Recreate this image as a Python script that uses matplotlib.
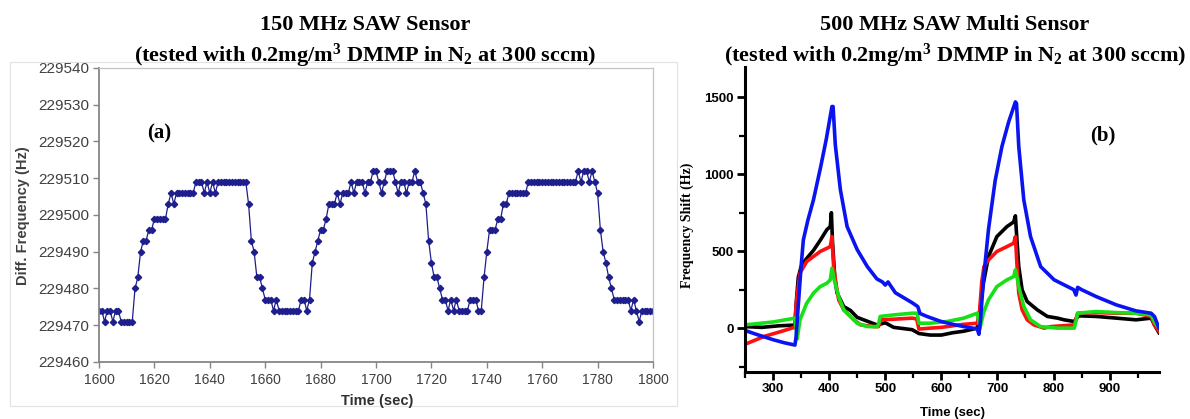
import numpy as np
import matplotlib as mpl
import matplotlib.pyplot as plt
from matplotlib.patches import Rectangle
from matplotlib.ticker import MultipleLocator

mpl.rcParams['font.family'] = 'Liberation Sans'
mpl.rcParams['mathtext.fontset'] = 'custom'
mpl.rcParams['mathtext.rm'] = 'Liberation Serif:bold'
mpl.rcParams['mathtext.bf'] = 'Liberation Serif:bold'
mpl.rcParams['mathtext.it'] = 'Liberation Serif:bold'
mpl.rcParams['mathtext.default'] = 'rm'

# ---- (a) 150 MHz sensor, one reading per second from 1600 s ----
t0_a = 1600
freq_a = [
    229474, 229474, 229471, 229474, 229474, 229471, 229474, 229474, 229471, 229471,
    229471, 229471, 229471, 229480, 229483, 229490, 229493, 229493, 229496, 229496,
    229499, 229499, 229499, 229499, 229499, 229503, 229506, 229503, 229506, 229506,
    229506, 229506, 229506, 229506, 229506, 229509, 229509, 229509, 229506, 229509,
    229506, 229509, 229506, 229509, 229509, 229509, 229509, 229509, 229509, 229509,
    229509, 229509, 229509, 229509, 229503, 229493, 229490, 229483, 229483, 229480,
    229477, 229477, 229477, 229474, 229477, 229474, 229474, 229474, 229474, 229474,
    229474, 229474, 229474, 229477, 229477, 229474, 229477, 229487, 229490, 229493,
    229496, 229496, 229499, 229503, 229503, 229503, 229506, 229503, 229506, 229506,
    229506, 229509, 229506, 229509, 229509, 229509, 229506, 229509, 229509, 229512,
    229512, 229509, 229506, 229509, 229512, 229512, 229512, 229509, 229506, 229509,
    229509, 229506, 229509, 229509, 229512, 229509, 229509, 229506, 229503, 229493,
    229487, 229483, 229483, 229480, 229477, 229477, 229474, 229477, 229474, 229477,
    229474, 229474, 229474, 229474, 229477, 229477, 229477, 229474, 229474, 229483,
    229490, 229496, 229496, 229496, 229499, 229499, 229503, 229503, 229506, 229506,
    229506, 229506, 229506, 229506, 229506, 229509, 229509, 229509, 229509, 229509,
    229509, 229509, 229509, 229509, 229509, 229509, 229509, 229509, 229509, 229509,
    229509, 229509, 229509, 229512, 229509, 229512, 229512, 229509, 229512, 229509,
    229506, 229496, 229490, 229487, 229483, 229480, 229477, 229477, 229477, 229477,
    229477, 229477, 229474, 229477, 229474, 229471, 229474, 229474, 229474, 229474,
    229474,
]
time_a = t0_a + np.arange(len(freq_a))
xticks_a = [1600, 1620, 1640, 1660, 1680, 1700, 1720, 1740, 1760, 1780, 1800]
yticks_a = [229460, 229470, 229480, 229490, 229500, 229510, 229520, 229530, 229540]

# ---- (b) 500 MHz multi sensor ----
blue_t = [250, 270, 300, 320, 339, 341, 345, 350, 354, 362, 372, 385, 395, 405, 407, 411,
          420, 432, 450, 468, 485, 495, 500, 505, 518, 548, 558, 562, 575, 598, 620,
          640, 664, 667, 670, 675, 684, 696, 708, 720, 732, 734, 738, 747, 759, 777,
          801, 825, 836, 840, 843, 850, 876, 912, 947, 974, 980, 988]
blue_v = [-15, -40, -75, -95, -110, -60, 150, 400, 573, 700, 833, 1050, 1230, 1440, 1440, 1190,
          900, 660, 510, 400, 320, 300, 280, 300, 230, 165, 140, 95, 75, 45, 25,
          10, -5, -40, 60, 314, 640, 960, 1180, 1340, 1470, 1460, 1180, 833, 595, 400,
          314, 270, 250, 215, 265, 250, 205, 151, 112, 97, 75, 0]

black_t = [250, 280, 310, 339, 341, 345, 350, 357, 372, 384, 396, 402, 404, 406, 410,
           414, 426, 438, 450, 468, 486, 490, 500, 515, 548, 560, 580, 600, 620, 640,
           664, 668, 675, 684, 699, 717, 729, 732, 735, 738, 744, 753, 771, 789, 807,
           819, 837, 840, 845, 876, 912, 947, 974, 980, 988]
black_v = [10, 5, 15, 20, 150, 330, 400, 440, 505, 570, 640, 660, 750, 560, 330,
           230, 140, 115, 70, 45, 20, 25, 35, 5, -10, -35, -45, -45, -30, -20,
           0, 100, 292, 465, 595, 660, 690, 730, 560, 400, 249, 173, 119, 76, 65,
           54, 43, 60, 80, 76, 65, 54, 65, 20, -30]

red_t = [250, 284, 314, 339, 341, 345, 348, 360, 372, 384, 396, 402, 405, 408, 412,
         417, 426, 444, 456, 480, 488, 492, 515, 548, 556, 560, 580, 600, 620, 640,
         664, 668, 672, 676, 684, 699, 717, 729, 732, 735, 738, 744, 753, 765, 783,
         795, 837, 840, 843, 876, 912, 947, 974, 980, 988]
red_v = [-105, -54, -22, 6, 150, 270, 357, 433, 465, 498, 519, 530, 595, 400, 292,
         184, 119, 54, 21, 10, 10, 54, 58, 65, 60, -6, 0, 5, 15, 25,
         32, 100, 300, 400, 443, 498, 530, 552, 595, 400, 227, 119, 54, 21, 0,
         10, 21, 60, 97, 101, 97, 97, 76, 20, -20]

green_t = [250, 300, 339, 341, 343, 348, 360, 372, 384, 396, 402, 405, 409, 417, 426,
           438, 450, 468, 486, 489, 491, 515, 548, 557, 560, 580, 610, 640, 664, 667,
           669, 675, 684, 699, 717, 729, 732, 735, 738, 747, 759, 777, 807, 837, 841,
           843, 876, 912, 947, 974, 980, 988]
green_v = [21, 40, 65, 10, -70, 54, 162, 227, 270, 292, 314, 389, 314, 205, 119,
           76, 32, 10, 10, 40, 76, 86, 97, 97, 32, 32, 43, 65, 97, 40,
           0, 97, 184, 270, 314, 335, 379, 330, 270, 141, 54, 10, 0, 0, 60,
           97, 108, 101, 97, 86, 40, 0]

W, H = 1190, 419
fig = plt.figure(figsize=(W / 100, H / 100), dpi=100)


def box(x0, y0, x1, y1):
    # pixel box (top-left origin) -> figure fraction rect
    return [x0 / W, 1 - y1 / H, (x1 - x0) / W, (y1 - y0) / H]


# faint chart-area frame of the Excel chart
fig.patches.append(Rectangle((10 / W, 1 - 406 / H), 667 / W, 344 / H, transform=fig.transFigure,
                             fill=False, edgecolor='#e2e2e2', lw=0.8))

# ---------------- left chart ----------------
ax1 = fig.add_axes(box(99, 68, 653, 362))
ax1.plot(time_a, freq_a, color='#1e1e8c', lw=0.9, marker='D', ms=3.2, mec='#1e1e8c')
ax1.set_xlim(1600, 1800)
ax1.set_ylim(229460, 229540)
ax1.set_xticks(xticks_a)
ax1.set_xticklabels([str(v) for v in xticks_a])
ax1.set_yticks(yticks_a)
ax1.set_yticklabels([str(v) for v in yticks_a])
for s in ['left', 'bottom']:
    ax1.spines[s].set_color('#868686')
    ax1.spines[s].set_linewidth(1.3)
for s in ['top', 'right']:
    ax1.spines[s].set_color('#c4c4c4')
    ax1.spines[s].set_linewidth(0.9)
ax1.tick_params(direction='out', length=4, width=1, color='#868686', labelcolor='#404040')
ax1.tick_params(axis='y', labelsize=11, pad=3)
ax1.tick_params(axis='x', labelsize=10, pad=4)

fig.text(23 / W, 1 - 216 / H, 'Diff. Frequency (Hz)', rotation=90, ha='center', va='center',
         fontsize=10.5, fontweight='bold', color='#404040')
fig.text(377 / W, 1 - 401 / H, 'Time (sec)', ha='center', va='center',
         fontsize=10.5, fontweight='bold', color='#303030')
fig.text(159 / W, 1 - 133 / H, '(a)', ha='center', va='center', family='Liberation Serif',
         fontsize=15, fontweight='bold')

# ---------------- right chart ----------------
ax2 = fig.add_axes(box(745, 66.5, 1159, 372))
ax2.plot(black_t, black_v, color='black', lw=2.6)
ax2.plot(red_t, red_v, color='#ff1010', lw=2.6)
ax2.plot(green_t, green_v, color='#18e018', lw=2.6)
ax2.plot(blue_t, blue_v, color='#0a14f0', lw=2.6)
ax2.set_xlim(250, 988)
ax2.set_ylim(-285, 1700)
ax2.xaxis.set_major_locator(MultipleLocator(100))
ax2.xaxis.set_minor_locator(MultipleLocator(50))
ax2.yaxis.set_major_locator(MultipleLocator(500))
ax2.yaxis.set_minor_locator(MultipleLocator(250))
for s in ['top', 'right']:
    ax2.spines[s].set_visible(False)
for s in ['left', 'bottom']:
    ax2.spines[s].set_linewidth(2.2)
ax2.tick_params(which='major', direction='out', length=6, width=2, labelsize=9.5, pad=2)
ax2.tick_params(which='minor', direction='out', length=4, width=1.6)
for lab in ax2.get_xticklabels() + ax2.get_yticklabels():
    lab.set_fontweight('bold')

fig.text(687 / W, 1 - 225 / H, 'Frequency Shift (Hz)', rotation=90, ha='center', va='center',
         family='Liberation Serif', fontsize=10, fontweight='bold')
fig.text(953 / W, 1 - 413 / H, 'Time (sec)', ha='center', va='center',
         fontsize=9.5, fontweight='bold')
fig.text(1103 / W, 1 - 135 / H, '(b)', ha='center', va='center', family='Liberation Serif',
         fontsize=15, fontweight='bold')

# ---------------- titles ----------------
sub = r'(tested with 0.2mg/m$^{3}$ DMMP in N$_{2}$ at 300 sccm)'
for xc, head in [(365, '150 MHz SAW Sensor'), (955, '500 MHz SAW Multi Sensor')]:
    fig.text(xc / W, 1 - 25 / H, head, ha='center', va='center', family='Liberation Serif',
             fontsize=16, fontweight='bold')
    fig.text(xc / W, 1 - 56 / H, sub, ha='center', va='center', family='Liberation Serif',
             fontsize=16, fontweight='bold')

fig.savefig('out.png', dpi=100)
